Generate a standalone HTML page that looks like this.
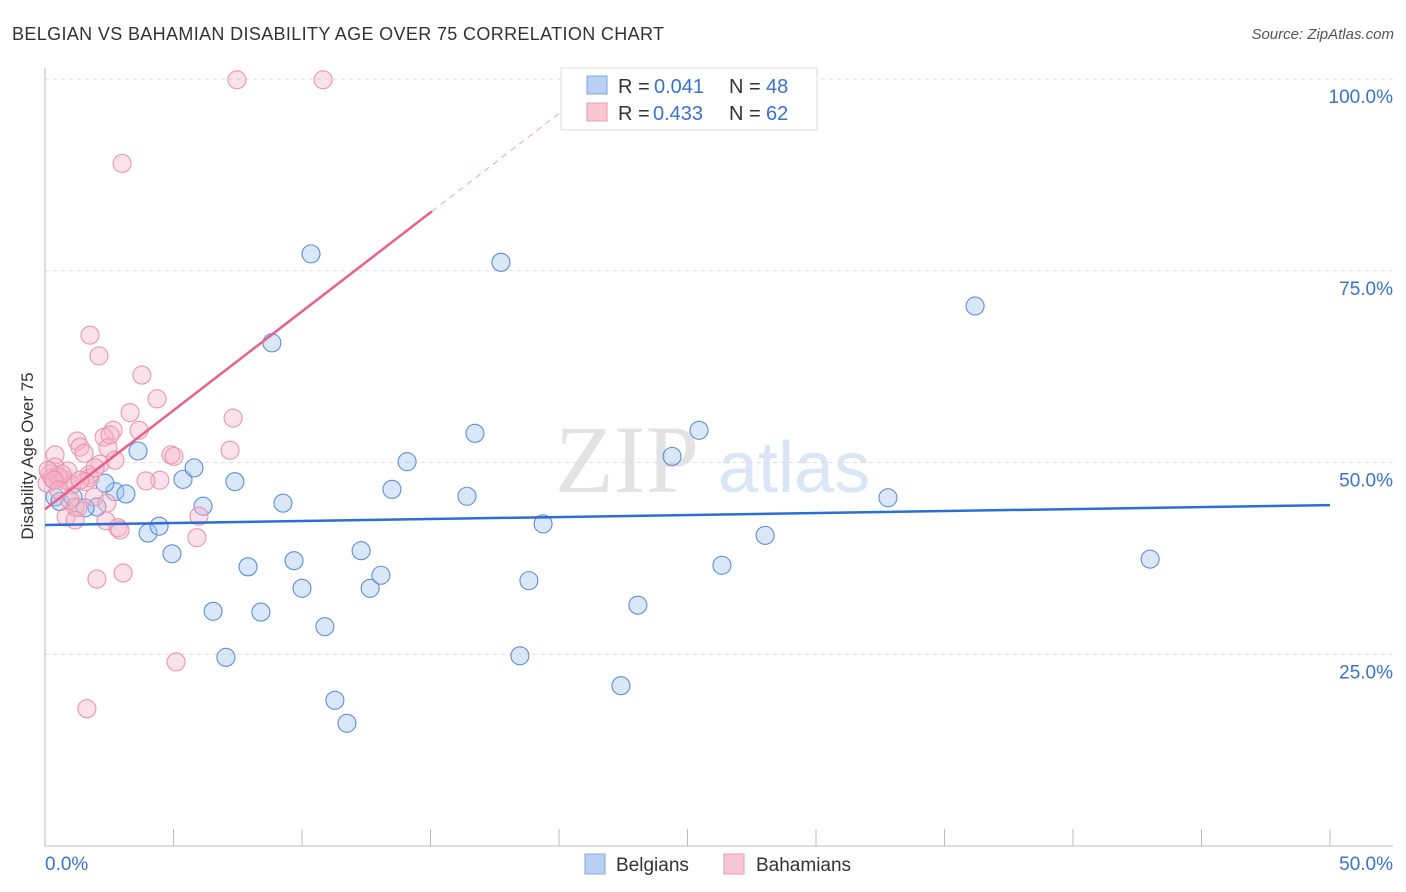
<!DOCTYPE html>
<html><head><meta charset="utf-8"><style>
body{margin:0;background:#fff;font-family:"Liberation Sans",sans-serif;}
</style></head><body>
<svg id="c" width="1406" height="892" xmlns="http://www.w3.org/2000/svg" style="display:block">
<text x="12" y="40" font-size="18" fill="#333" textLength="652">BELGIAN VS BAHAMIAN DISABILITY AGE OVER 75 CORRELATION CHART</text>
<text x="1394" y="39" font-size="15" fill="#555" font-style="italic" text-anchor="end">Source: ZipAtlas.com</text>
<text x="33" y="456" font-size="17" fill="#333" text-anchor="middle" transform="rotate(-90 33 456)">Disability Age Over 75</text>
<text x="555" y="492" font-size="96" fill="#e3e3e3" font-family="Liberation Serif,serif">ZIP</text>
<text x="718" y="492" font-size="72" fill="#d9e6f7">atlas</text>
<g id="grid"></g><g id="pts"></g><g id="lines"></g>
<g>
<rect x="561" y="68" width="256" height="62" fill="#fff" stroke="#ddd"/>
<rect x="587" y="76" width="20" height="18" fill="#b7d0f3" stroke="#7ea8e0"/>
<text x="618" y="93" font-size="20" fill="#333">R =</text>
<text x="654" y="93" font-size="20" fill="#3a72d0">0.041</text>
<text x="729" y="93" font-size="20" fill="#333">N =</text>
<text x="766" y="93" font-size="20" fill="#3a72d0">48</text>
<rect x="587" y="103" width="20" height="18" fill="#f9c6d5" stroke="#ee9ab3"/>
<text x="618" y="120" font-size="20" fill="#333">R =</text>
<text x="653" y="120" font-size="20" fill="#3a72d0">0.433</text>
<text x="729" y="120" font-size="20" fill="#333">N =</text>
<text x="766" y="120" font-size="20" fill="#3a72d0">62</text>
</g>
<g>
<rect x="585" y="854" width="20" height="20" fill="#b7d0f3" stroke="#7ea8e0"/>
<text x="616" y="871" font-size="19" fill="#333">Belgians</text>
<rect x="724" y="854" width="20" height="20" fill="#f9c6d5" stroke="#ee9ab3"/>
<text x="756" y="871" font-size="19" fill="#333">Bahamians</text>
</g>
</svg>
<script>
const blueX=[0.39,0.58,1.09,2.02,2.72,3.15,2.33,3.62,4.01,4.44,4.94,5.37,5.80,6.15,6.54,7.04,7.39,7.90,8.40,8.83,9.26,9.69,10.0,10.35,10.89,11.28,11.75,12.30,12.65,13.07,13.50,14.09,16.42,16.73,17.74,18.48,18.83,19.38,22.41,23.07,24.40,25.45,26.34,28.02,32.80,36.19,43.0,1.56];
const blueY=[45.5,44.9,45.5,44.2,46.2,45.9,47.3,51.5,40.8,41.7,38.1,47.8,49.3,44.3,30.6,24.6,47.5,36.4,30.5,65.6,44.7,37.2,33.6,77.2,28.6,19.0,16.0,38.5,33.6,35.3,46.5,50.1,45.6,53.8,76.1,24.8,34.6,42.0,20.9,31.4,50.8,54.2,36.6,40.5,45.4,70.4,37.4,44.1];
const pinkX=[7.47,10.82,3.0,1.75,2.1,3.77,4.36,3.31,7.32,2.65,3.66,1.25,2.30,1.36,2.45,7.2,0.39,4.9,5.02,2.14,0.39,0.89,1.71,4.47,3.93,0.19,0.58,0.78,0.08,0.27,1.75,1.05,1.91,2.41,1.17,1.28,2.37,2.84,2.92,5.99,5.91,0.82,3.04,2.02,5.10,1.63,0.51,0.66,1.52,2.53,0.12,0.35,0.97,1.56,1.95,1.17,0.54,2.72,1.36];
const pinkY=[99.9,99.9,89.0,66.6,63.9,61.4,58.3,56.5,55.8,54.2,54.2,52.8,53.3,52.0,51.9,51.6,51.0,51.0,50.8,49.8,49.4,48.9,48.4,47.7,47.6,48.5,48.0,47.7,47.3,48.0,48.0,47.1,45.5,44.7,44.2,44.1,42.4,41.5,41.2,43.0,40.2,42.9,35.6,34.8,24.0,17.9,48.2,48.5,51.2,53.6,49.0,47.7,45.1,47.5,49.3,42.5,46.4,50.3,47.7];
const blueFit=[41.85,44.45];
const pinkFit=[43.9,2.58];
const yTicks=[25,50,75,100];
const NS="http://www.w3.org/2000/svg";
const X=v=>45+v*25.7, Y=v=>846-v*7.67;
function mk(t,a,p){const e=document.createElementNS(NS,t);for(const k in a)e.setAttribute(k,a[k]);document.getElementById(p).appendChild(e);return e;}
const g='grid';
yTicks.forEach(t=>{
 const l=mk('line',{x1:45,x2:1393,y1:Y(t),y2:Y(t),stroke:'#ddd','stroke-dasharray':'4 4'},g);
 
 
 const tx=mk('text',{x:1393,y:Y(t)+24,'font-size':19,fill:'#3a72d0','text-anchor':'end'},g);
 tx.textContent=t.toFixed(1)+'%';
 
 
});
mk('line',{x1:45,x2:45,y1:68,y2:846,stroke:'#bbb'},g);
mk('line',{x1:45,x2:1393,y1:846,y2:846,stroke:'#bbb'},g);
for(let i=0;i<=10;i++){const t=mk('line',{x1:X(i*5),x2:X(i*5),y1:829,y2:846,stroke:'#bbb'},g);
 
 }
const x0=mk('text',{x:45,y:870,'font-size':19,fill:'#3a72d0'},g);x0.textContent='0.0%';


const x1=mk('text',{x:1393,y:870,'font-size':19,fill:'#3a72d0','text-anchor':'end'},g);x1.textContent='50.0%';


blueX.forEach((v,i)=>{const c=mk('circle',{cx:X(v),cy:Y(blueY[i]),r:9,fill:'rgba(160,195,240,0.4)',stroke:'#5b8fd8','stroke-width':1.1},'pts');
 
 });
pinkX.forEach((v,i)=>{const c=mk('circle',{cx:X(v),cy:Y(pinkY[i]),r:9,fill:'rgba(246,180,200,0.4)',stroke:'#eb93ae','stroke-width':1.1},'pts');
 
 });
const bl=mk('line',{x1:X(0),y1:Y(blueFit[0]),x2:X(50),y2:Y(blueFit[1]),stroke:'#2a6fd6','stroke-width':2.5},'lines');


const pe=15.06, pd=(100-pinkFit[0])/pinkFit[1];
const pl=mk('line',{x1:X(0),y1:Y(pinkFit[0]),x2:X(pe),y2:Y(pinkFit[0]+pinkFit[1]*pe),stroke:'#e8608c','stroke-width':2.5},'lines');


const pdl=mk('line',{x1:X(pe),y1:Y(pinkFit[0]+pinkFit[1]*pe),x2:X(pd),y2:Y(100),stroke:'#f0a0b8','stroke-width':1,'stroke-dasharray':'6 5'},'lines');


</script>
</body></html>
